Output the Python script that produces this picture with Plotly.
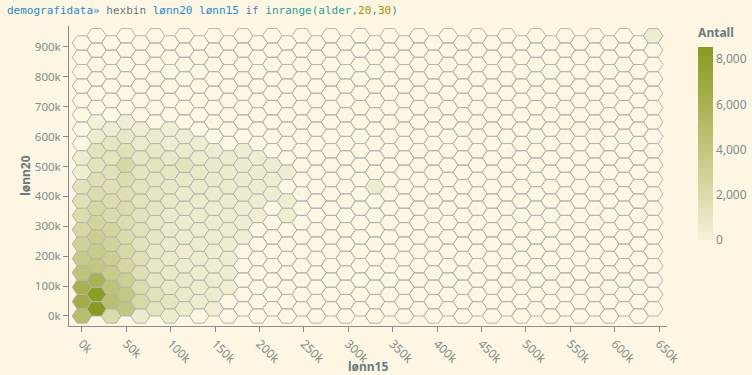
import plotly.graph_objects as go
from plotly.colors import sample_colorscale

# ---------------- data ----------------
x_tick_vals = [0, 50000, 100000, 150000, 200000, 250000, 300000, 350000, 400000,
               450000, 500000, 550000, 600000, 650000]
x_tick_text = ["0k", "50k", "100k", "150k", "200k", "250k", "300k", "350k", "400k",
               "450k", "500k", "550k", "600k", "650k"]
y_tick_vals = [0, 100000, 200000, 300000, 400000, 500000, 600000, 700000, 800000, 900000]
y_tick_text = ["0k", "100k", "200k", "300k", "400k", "500k", "600k", "700k", "800k", "900k"]
cbar_tick_vals = [0, 2000, 4000, 6000, 8000]
cbar_tick_text = ["0", "2,000", "4,000", "6,000", "8,000"]

# hexbin grid (bin size in data units)
n_cols = 40
n_rows = 20
bin_dx = 16500      # horizontal distance between column centres (lønn15)
bin_dy = 48070      # vertical distance between row centres (lønn20)

# counts per column, listed from the bottom row upwards (missing rows = 0)
col_00 = [4850, 6500, 6100, 4200, 3600, 2900, 2300, 2000, 1600, 1400, 450, 500]
col_01 = [8540, 8300, 5900, 4000, 3600, 3300, 2700, 2300, 2000, 1700, 1300, 1250, 500, 200]
col_02 = [2100, 4700, 4300, 3500, 3300, 2900, 2600, 2000, 1900, 1600, 1500, 1200, 1100, 450]
col_03 = [4100, 3900, 3200, 2500, 2300, 2000, 1900, 2000, 1700, 1900, 2400, 1500, 900, 300]
col_04 = [600, 2300, 2000, 1700, 1600, 1400, 1500, 1400, 1400, 1300, 1200, 1000, 700, 400]
col_05 = [1300, 1500, 1000, 900, 900, 1000, 900, 1000, 1100, 1000, 1300, 900, 600]
col_06 = [600, 1100, 900, 750, 700, 700, 700, 750, 800, 900, 1000, 800, 500, 350]
col_07 = [600, 750, 650, 550, 550, 500, 550, 650, 700, 800, 1300, 700, 450]
col_08 = [0, 500, 550, 500, 500, 500, 550, 600, 650, 700, 800, 600, 500]
col_09 = [400, 500, 500, 450, 450, 450, 500, 550, 600, 700, 700, 550]
col_10 = [0, 0, 400, 450, 450, 450, 450, 500, 550, 600, 600, 500]
col_11 = [0, 0, 0, 0, 0, 400, 450, 450, 500, 550, 550, 450]
col_12 = [0, 0, 0, 0, 0, 0, 0, 400, 450, 500, 500, 450]
col_13 = [0, 0, 0, 0, 0, 0, 0, 0, 450, 450, 450]
col_14 = [0, 0, 0, 0, 0, 0, 0, 450, 450, 0, 450]
col_20 = [0, 0, 0, 0, 0, 0, 0, 0, 0, 500]
col_39 = [0] * 19 + [450]

column_counts = {0: col_00, 1: col_01, 2: col_02, 3: col_03, 4: col_04, 5: col_05,
                 6: col_06, 7: col_07, 8: col_08, 9: col_09, 10: col_10, 11: col_11,
                 12: col_12, 13: col_13, 14: col_14, 20: col_20, 39: col_39}

count_max = 8540
colorscale = [[0.0, "#f5f2dc"],
              [1000 / count_max, "#e8e6c2"],
              [2000 / count_max, "#dcdbab"],
              [4000 / count_max, "#c3c67f"],
              [6000 / count_max, "#a9b152"],
              [8000 / count_max, "#909f2a"],
              [1.0, "#8a9a1c"]]

BG = "#fdf6e3"
EDGE = "#b0b6b1"
TICK_COL = "#7d8c8e"
AXIS_COL = "#8a8a8a"

# ---------------- geometry ----------------
R = bin_dx / 1.5
H2 = bin_dy / 2.0


def hex_path(cx, cy):
    xs = [cx + R, cx + R / 2, cx - R / 2, cx - R, cx - R / 2, cx + R / 2, cx + R]
    ys = [cy, cy + H2, cy + H2, cy, cy - H2, cy - H2, cy]
    return xs, ys


fig = go.Figure()

empty_x, empty_y = [], []
filled = []
for c in range(n_cols):
    counts = column_counts.get(c, [])
    for r in range(n_rows):
        cx = c * bin_dx
        cy = (r + (0.5 if c % 2 else 0.0)) * bin_dy
        v = counts[r] if r < len(counts) else 0
        xs, ys = hex_path(cx, cy)
        if v > 0:
            filled.append((xs, ys, v))
        else:
            empty_x += xs + [None]
            empty_y += ys + [None]

fig.add_trace(go.Scatter(x=empty_x, y=empty_y, mode="lines", fill="toself",
                         fillcolor=BG, line=dict(color=EDGE, width=1),
                         hoverinfo="skip", showlegend=False))

for xs, ys, v in filled:
    col = sample_colorscale(colorscale, [min(v / count_max, 1.0)])[0]
    fig.add_trace(go.Scatter(x=xs, y=ys, mode="lines", fill="toself",
                             fillcolor=col, line=dict(color=EDGE, width=1),
                             hoverinfo="text", text=f"Antall: {v}",
                             showlegend=False))

# colour bar
fig.add_trace(go.Scatter(
    x=[-500000, -500000], y=[-500000, -500000], mode="markers",
    marker=dict(color=[0, count_max], cmin=0, cmax=count_max,
                colorscale=colorscale, showscale=True, size=1,
                colorbar=dict(
                    thickness=15, thicknessmode="pixels",
                    len=215, lenmode="pixels",
                    x=1.052, xanchor="left", y=0.287, yanchor="bottom",
                    xpad=0, ypad=0, outlinewidth=0, ticks="",
                    tickvals=cbar_tick_vals, ticktext=cbar_tick_text,
                    tickfont=dict(family="Noto Sans", size=12, color=TICK_COL),
                    title=dict(text="<b>Antall</b>", side="top",
                               font=dict(family="Noto Sans", size=12, color="#6c7b80")))),
    hoverinfo="skip", showlegend=False))

title_html = ('<span style="color:#268bd2">demografidata»</span>'
              '<span style="color:#657b83"> hexbin </span>'
              '<span style="color:#268bd2">lønn20 lønn15 </span>'
              '<span style="color:#6c71c4">if </span>'
              '<span style="color:#2aa198">inrange(alder,</span>'
              '<span style="color:#b58900">20</span>'
              '<span style="color:#2aa198">,</span>'
              '<span style="color:#b58900">30</span>'
              '<span style="color:#2aa198">)</span>')

fig.update_layout(
    width=752, height=375, autosize=False,
    margin=dict(l=69, r=85, t=26, b=49, pad=0, autoexpand=False),
    paper_bgcolor=BG, plot_bgcolor=BG,
    xaxis=dict(range=[-14600, 659000], tickvals=x_tick_vals, ticktext=x_tick_text,
               tickangle=45, showgrid=False, zeroline=False, showline=True,
               linecolor=AXIS_COL, linewidth=1, ticks="outside", ticklen=5,
               tickcolor=AXIS_COL, automargin=False,
               tickfont=dict(family="Noto Sans", size=12, color=TICK_COL)),
    yaxis=dict(range=[-33500, 970000], tickvals=y_tick_vals, ticktext=y_tick_text,
               showgrid=False, zeroline=False, showline=True,
               linecolor=AXIS_COL, linewidth=1, ticks="outside", ticklen=5,
               tickcolor=AXIS_COL, automargin=False,
               tickfont=dict(family="Noto Sans", size=11.5, color=TICK_COL)),
    annotations=[
        dict(text=title_html, xref="paper", yref="paper", x=-0.107, y=1.053,
             xanchor="left", yanchor="middle", showarrow=False,
             font=dict(family="DejaVu Sans Mono", size=11, color="#657b83")),
        dict(text="<b>lønn15</b>", xref="paper", yref="paper", x=0.5, y=-0.135,
             xanchor="center", yanchor="middle", showarrow=False,
             font=dict(family="Noto Sans", size=12, color="#6c7b80")),
        dict(text="<b>lønn20</b>", xref="paper", yref="paper", x=-0.074, y=0.5,
             xanchor="center", yanchor="middle", showarrow=False, textangle=-90,
             font=dict(family="Noto Sans", size=12, color="#6c7b80")),
    ],
)

fig.write_html("out.html")
